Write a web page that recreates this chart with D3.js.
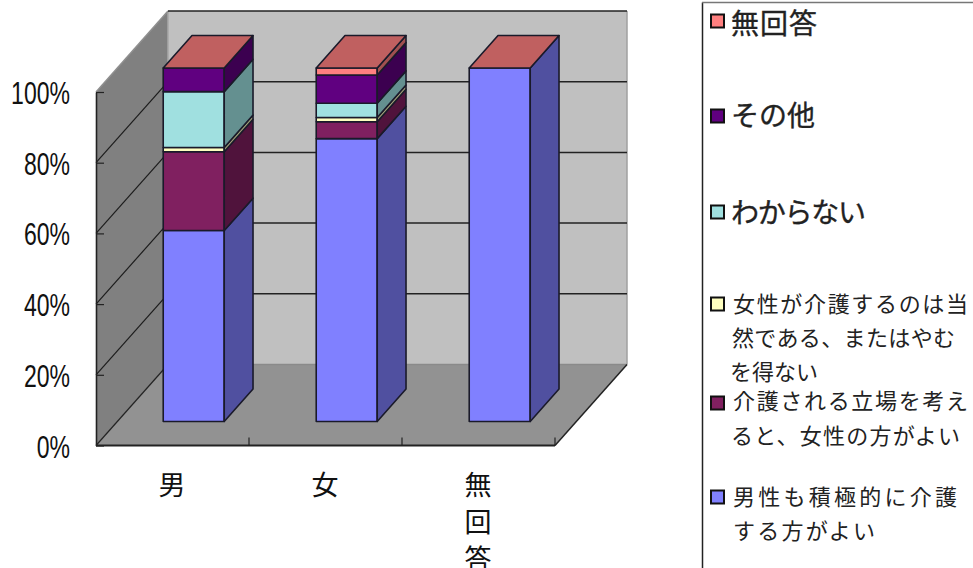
<!DOCTYPE html>
<html><head><meta charset="utf-8">
<script src="https://cdn.jsdelivr.net/npm/d3@7"></script>
<style>html,body{margin:0;padding:0;background:#fff}svg{display:block}</style>
</head><body><svg id="c" width="973" height="568"></svg>
<script>
const categories = ["男","女","無回答"];
const yTicks = [0,20,40,60,80,100];
const seriesNames = ["男性も積極的に介護する方がよい","介護される立場を考えると、女性の方がよい","女性が介護するのは当然である、またはやむを得ない","わからない","その他","無回答"];
const men    = [54, 22.3, 1.2, 15.8, 6.7, 0];
const women  = [80, 4.8, 1.2, 4, 8, 2];
const noAns  = [100, 0, 0, 0, 0, 0];
const table  = [men, women, noAns];
const frontColors = ["#8080ff","#802060","#ffffc0","#a0e0e0","#600080","#ff8080"];
const sideColors  = ["#5050a0","#50133c","#a0a078","#649090","#3c0050","#a05050"];
const topColor = "#c06060";

const svg = d3.select("#c");
const font = "'Noto Sans CJK JP'";
const stroke = "#1a1a2a";
const DX = 72, DY = -81;           // full depth of the plot box
const y = d3.scaleLinear().domain([0,100]).range([445.5,92]);
const x = d3.scaleBand().domain(categories).range([96,555]);
const poly = (pts,fill,st,sw) => svg.append("polygon").attr("points",pts.map(p=>p.join(",")).join(" "))
   .attr("fill",fill).attr("stroke",st||"none").attr("stroke-width",sw||0).attr("stroke-linejoin","round");
const line = (a,b,col,w) => svg.append("line").attr("x1",a[0]).attr("y1",a[1]).attr("x2",b[0]).attr("y2",b[1]).attr("stroke",col).attr("stroke-width",w);

const x0 = x.range()[0], x1 = x.range()[1], y0 = y(0), yT = y(100);
// walls and floor
poly([[x0+DX,yT+DY],[x1+DX,yT+DY],[x1+DX,y0+DY],[x0+DX,y0+DY]],"#c0c0c0");
poly([[x0,yT],[x0+DX,yT+DY],[x0+DX,y0+DY],[x0,y0]],"#808080");
poly([[x0,y0],[x1,y0],[x1+DX,y0+DY],[x0+DX,y0+DY]],"#929292");
line([x1+DX,yT+DY],[x1+DX,y0+DY],"#a0a0a0",1.5);
line([x0+DX,y0+DY],[x1+DX,y0+DY],"#8a8a8a",1.5);
line([x0+DX,yT+DY],[x0+DX,y0+DY],"#a8a8a8",1.5);
line([x0,yT],[x0+DX,yT+DY],"#8f8f8f",1.5);
// grid
yTicks.filter(t=>t>0).forEach(t=>{
  line([x0+DX,y(t)+DY],[x1+DX,y(t)+DY],"#222",1.5);
  if(t<100) line([x0,y(t)],[x0+DX,y(t)+DY],"#1c1c1c",1.2);
});
line([x0,y0],[x0+DX,y0+DY],"#222",1.2);
line([x1,y0],[x1+DX,y0+DY],"#222",1.5);

// axes
const ax = svg.append("g").attr("transform",`translate(${x0},0)`)
  .call(d3.axisLeft(y).tickValues(yTicks).tickFormat(d=>d+"%").tickSize(-8).tickSizeOuter(0).tickPadding(26));
ax.select(".domain").attr("stroke","#222").attr("stroke-width",1.6);
ax.selectAll(".tick line").attr("stroke","#222").attr("stroke-width",1.2);
ax.selectAll(".tick text").each(function(){
  d3.select(this).attr("x",null).attr("dy",null).attr("text-anchor","end")
   .attr("fill","#111").attr("font-family","'Liberation Sans'").attr("font-size",32)
   .attr("transform","translate(-26,11.5) scale(0.72,1)");
});
const bx = svg.append("g").attr("transform",`translate(0,${y0})`)
  .call(d3.axisBottom(x).tickFormat("").tickSize(0).tickSizeOuter(0).offset(0));
bx.select(".domain").attr("stroke","#222").attr("stroke-width",1.8);
bx.selectAll(".tick").remove();
x.domain().forEach(c=>line([x(c)+x.bandwidth(),y0],[x(c)+x.bandwidth(),y0-8],"#222",1.2));

// category labels
const gapInset = 45.4, depthIn = 1/3.3, barW = 61, dd = 0.4, nudge = 0.5;
categories.forEach(c=>{
  const cx = x(c)+x.bandwidth()/2-0.5;
  [...c].forEach((ch,i)=>svg.append("text").text(ch).attr("x",cx).attr("y",495+i*37)
     .attr("text-anchor","middle").attr("font-family",font).attr("font-size",27).attr("fill","#111"));
});

// bars
const fx = DX*depthIn, fy = DY*depthIn+nudge, sx = DX*dd, sy = DY*dd;
categories.forEach((c,ci)=>{
  const L = x(c)+gapInset+fx, R = L+barW;
  let acc = 0;
  table[ci].forEach((v,si)=>{
    if(v<=0) return;
    const a = y(acc)+fy, b = y(acc+v)+fy;
    poly([[L,a],[R,a],[R,b],[L,b]],frontColors[si],stroke,1.6);
    poly([[R,a],[R+sx,a+sy],[R+sx,b+sy],[R,b]],sideColors[si],stroke,1.6);
    acc += v;
  });
  const t = y(acc)+fy;
  poly([[L,t],[R,t],[R+sx,t+sy],[L+sx,t+sy]],topColor,stroke,1.6);
});

// legend
svg.append("path").attr("d","M702.5,2.5V568").attr("fill","none").attr("stroke","#222").attr("stroke-width",1.5);
svg.append("path").attr("d","M702,2.5H973").attr("fill","none").attr("stroke","#777").attr("stroke-width",1.5);
const legendRows = [5,4,3,2,1,0];
const legendMidY = [21,116,212,304,403,497];
const legendLines = [
  [["無回答",731,24,28,86,0.35]],
  [["その他",731,116,28,84,0.35]],
  [["わからない",731,213,28,135,0.35]],
  [["女性が介護するのは当",733,304,22,235,0]],
  [["介護される立場を考え",733,401,22,235,0]],
  [["男性も積極的に介護",733,497,22,224,0]]
];
const legendExtra = [
  [], [], [],
  [["然である、またはやむ",732,338,22,223,0],["を得ない",730,372,22,88,0]],
  [["ると、女性の方がよい",731,436,22,229,0]],
  [["する方がよい",733,531,22,142,0]]
];
legendRows.forEach((s,i)=>{
  svg.append("rect").attr("x",711).attr("y",legendMidY[i]-6.5).attr("width",13).attr("height",13)
    .attr("fill",frontColors[s]).attr("stroke","#111").attr("stroke-width",2);
  legendLines[i].concat(legendExtra[i]).forEach(l=>svg.append("text").text(l[0]).attr("x",l[1]).attr("y",l[2])
    .attr("dy","0.36em").attr("font-family",font).attr("font-size",l[3]).attr("fill","#222")
    .attr("stroke","#222").attr("stroke-width",l[5])
    .attr("textLength",l[4]).attr("lengthAdjust","spacing"));
});
</script></body></html>
